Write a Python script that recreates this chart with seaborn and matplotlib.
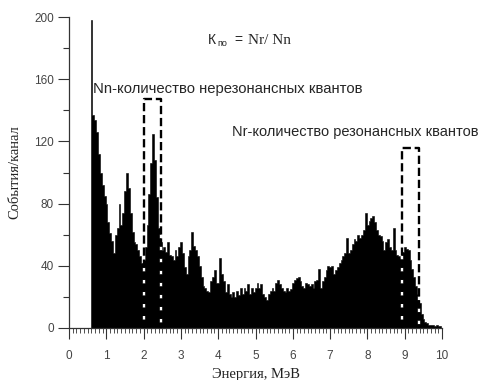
import matplotlib
matplotlib.use("Agg")
import matplotlib.pyplot as plt
import seaborn as sns
import numpy as np
import pandas as pd

sns.set_theme(style="ticks")
plt.rcParams["font.family"] = ["Liberation Sans", "DejaVu Sans"]

# spectrum: counts per channel, channels of 0.05 MeV starting at 0.58 MeV
bin_start = 0.58
bin_width = 0.05
counts_0 = [198, 137, 134, 126, 112, 100, 92, 85]
counts_1 = [80, 68, 61, 56, 48, 60, 64, 80, 66, 74, 88, 100, 90, 74, 62, 55, 54, 50, 46, 42]
counts_2 = [44, 52, 66, 86, 106, 125, 108, 84, 64, 55, 50, 52, 49, 55, 47, 46, 44, 50, 46, 52]
counts_3 = [55, 48, 39, 35, 46, 50, 62, 53, 50, 46, 40, 33, 27, 26, 24, 23, 30, 33, 37, 29]
counts_4 = [29, 45, 35, 30, 23, 28, 22, 20, 23, 20, 24, 21, 26, 22, 26, 24, 28, 22, 26, 23]
counts_5 = [26, 29, 26, 28, 22, 20, 18, 22, 24, 26, 24, 29, 31, 28, 26, 24, 23, 26, 24, 25]
counts_6 = [29, 31, 32, 33, 30, 27, 26, 29, 28, 27, 28, 26, 30, 31, 38, 26, 30, 33, 37, 40]
counts_7 = [39, 40, 35, 37, 39, 42, 44, 46, 48, 58, 48, 50, 54, 57, 56, 60, 58, 60, 63, 74]
counts_8 = [66, 69, 71, 72, 68, 63, 60, 59, 56, 50, 55, 57, 52, 50, 64, 50, 47, 46, 45, 49]
counts_9 = [52, 51, 50, 44, 38, 33, 27, 22, 16, 9, 6, 4, 3, 2, 2, 2, 1, 2, 1, 1]

# dashed windows: [left, right, top]
box_nn = [2.02, 2.46, 147]
box_nr = [8.92, 9.37, 116]

counts = (counts_0 + counts_1 + counts_2 + counts_3 + counts_4
          + counts_5 + counts_6 + counts_7 + counts_8 + counts_9)
edges = bin_start + bin_width * np.arange(len(counts) + 1)
df = pd.DataFrame({"energy": (edges[:-1] + edges[1:]) / 2, "count": counts})

fig = plt.figure(figsize=(4.83, 3.80), dpi=100)
ax = fig.add_axes([69 / 483, 1 - 328 / 380, (442 - 69) / 483, (328 - 17) / 380])

sns.histplot(data=df, x="energy", weights="count", bins=list(edges),
             element="step", fill=True, color="black", edgecolor="black",
             alpha=1, linewidth=0.4, antialiased=False, ax=ax)

for x0, x1, top in (box_nn, box_nr):
    ax.plot([x0, x0, x1, x1], [0, top, top, 0], color="black", lw=1.7,
            linestyle=(0, (3.5, 1.6)), gapcolor="white", zorder=3)

ax.set_xlim(0, 10)
ax.set_ylim(0, 200)
ax.set_xticks(np.arange(0, 11, 1))
ax.set_xticks(np.arange(0, 10.01, 0.1), minor=True)
ax.set_yticks(np.arange(0, 201, 40))
ax.set_yticks(np.arange(20, 200, 40), minor=True)

sns.despine(ax=ax)
for s in ("left", "bottom"):
    ax.spines[s].set_color("#333333")
    ax.spines[s].set_linewidth(0.9)

ax.tick_params(axis="x", which="major", length=8, width=0.8, color="#333333",
               labelsize=8.5, labelcolor="#444444", pad=8)
ax.tick_params(axis="x", which="minor", length=3.5, width=0.6, color="#333333")
ax.tick_params(axis="y", which="major", length=8, width=0.8, color="#333333",
               labelsize=8.5, labelcolor="#444444", pad=3)
ax.tick_params(axis="y", which="minor", length=4, width=0.8, color="#333333")

ax.set_xlabel("Энергия, МэВ", family="Liberation Serif", fontsize=10.5,
              color="#222222", labelpad=4)
ax.set_ylabel("События/канал", family="Liberation Serif", fontsize=10.5,
              color="#222222", labelpad=9)

ax.text(3.73, 185, "К", fontsize=10, va="center", ha="left")
ax.text(3.98, 183, "по", fontsize=6.5, va="center", ha="left")
ax.text(4.44, 185, "=", fontsize=10, va="center", ha="left")
ax.text(4.80, 185, "Nr/ Nn", family="Liberation Serif", fontsize=11,
        va="center", ha="left")
ax.text(0.64, 154, "Nn-количество нерезонансных квантов", fontsize=10.7,
        va="center", ha="left")
ax.text(4.37, 126, "Nr-количество резонансных квантов", fontsize=10.5,
        va="center", ha="left")

fig.savefig("out.png", dpi=100)
